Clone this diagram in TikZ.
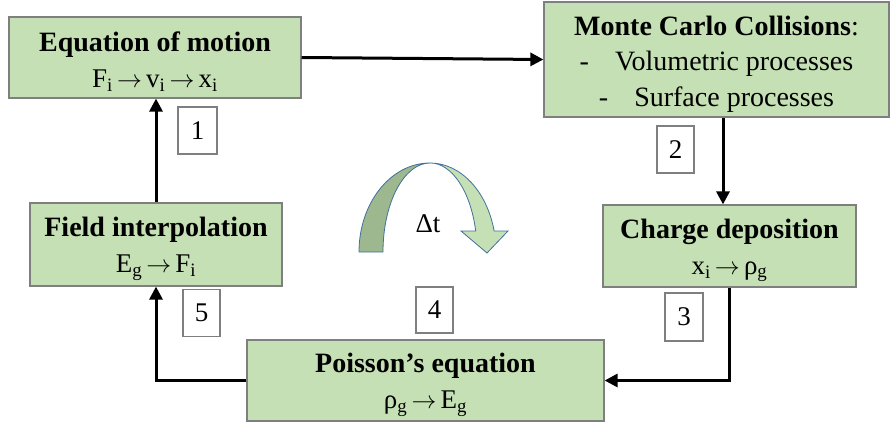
\documentclass[tikz,border=0pt]{standalone}
\usepackage{fontspec}
\setmainfont{Liberation Serif}
\usetikzlibrary{arrows.meta,calc}
\definecolor{boxgreen}{HTML}{C5E0B4}
\definecolor{darkgreen}{HTML}{9DB88E}
\definecolor{boxline}{HTML}{7F7F7F}
\definecolor{arcline}{HTML}{41719C}
\tikzset{
  stepbox/.style={draw=boxline, line width=1.2pt, fill=boxgreen, align=center, inner sep=0pt,
    font=\fontsize{27}{36}\selectfont},
  numbox/.style={draw=boxline, line width=1.2pt, fill=white, inner sep=0pt,
    font=\fontsize{27}{30}\selectfont},
  flow/.style={line width=3pt, -{Triangle[length=13pt,width=13pt]}},
}
\newcommand{\ttl}[1]{{\fontsize{28}{36}\selectfont\bfseries\rule{0pt}{28pt}#1}}
\newcommand{\sbs}[1]{\textsubscript{#1}}
\newcommand{\rarr}{$\,\rightarrow\,$}
\begin{document}
\begin{tikzpicture}[x=1pt,y=-1pt]
\useasboundingbox (0,0) rectangle (891,428);
% main boxes
\node[stepbox, minimum width=292pt, minimum height=81pt] (b1) at (155,57.5)
  {\ttl{Equation of motion}\\F\sbs{i}\rarr v\sbs{i}\rarr x\sbs{i}};
\node[stepbox, minimum width=345pt, minimum height=115pt, font=\fontsize{28}{35.5}\selectfont] (b2) at (716.5,59.5)
  {\ttl{Monte Carlo Collisions}:\\-\hspace{26pt}Volumetric processes\\-\hspace{26pt}Surface processes};
\node[stepbox, minimum width=253pt, minimum height=82pt] (b3) at (729.5,246)
  {\ttl{Charge deposition}\\x\sbs{i}\rarr ρ\sbs{g}};
\node[stepbox, minimum width=252pt, minimum height=83pt] (b4) at (156,244.5)
  {\ttl{Field interpolation}\\E\sbs{g}\rarr F\sbs{i}};
\node[stepbox, minimum width=357pt, minimum height=81pt] (b5) at (425.5,380.5)
  {\ttl{Poisson’s equation}\\ρ\sbs{g}\rarr E\sbs{g}};
% number boxes
\node[numbox, minimum width=39pt, minimum height=47pt] (n1) at (197.5,130.5) {1};
\node[numbox, minimum width=37pt, minimum height=47pt] (n2) at (675.5,149.5) {2};
\node[numbox, minimum width=38pt, minimum height=48pt] (n3) at (684,317) {3};
\node[numbox, minimum width=37pt, minimum height=46pt] (n4) at (434.5,310) {4};
\node[numbox, minimum width=37pt, minimum height=47pt] (n5) at (201.5,313) {5};
% connectors
\draw[flow] (b1.east) -- (b2.west);
\draw[flow] ([xshift=6.5pt]b2.south) -- ([xshift=6.5pt]b2.south |- b3.north);
\draw[flow] (b3.south) -- (b3.south |- b5.east) -- (b5.east);
\draw[flow] (b5.west) -| (b4.south);
\draw[flow] (b4.north) -- (b4.north |- b1.south);
% curved time-step arrow
\draw[draw=arcline, line width=0.8pt, fill=darkgreen]
  (359,252) arc[start angle=180, end angle=270, x radius=71, y radius=89]
  arc[start angle=270, end angle=180, x radius=47, y radius=89] -- cycle;
\draw[draw=arcline, line width=0.8pt, fill=boxgreen]
  (430,163) arc[start angle=270, end angle=346.4, x radius=66, y radius=89]
  -- (508,231) -- (487,253) -- (461,231) -- (475.7,231)
  arc[start angle=346.4, end angle=270, x radius=47, y radius=89] -- cycle;
\node[font=\fontsize{27}{30}\selectfont, inner sep=0pt] (dt) at (428,224) {Δt};
\end{tikzpicture}
\end{document}
